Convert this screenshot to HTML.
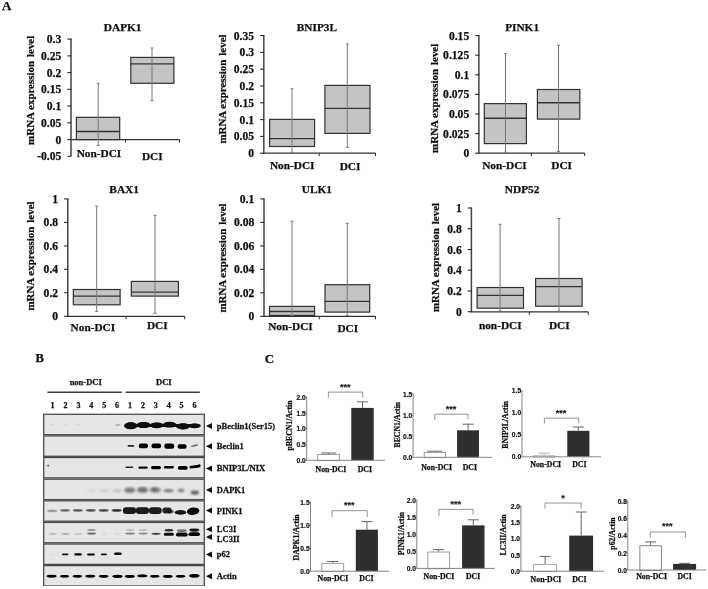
<!DOCTYPE html>
<html><head><meta charset="utf-8"><title>Figure</title>
<style>
html,body{margin:0;padding:0;background:#fff;}
body{width:708px;height:589px;overflow:hidden;font-family:"Liberation Serif",serif;}
svg{display:block}
.ff-s{font-family:"Liberation Serif",serif;}
.ff-a{font-family:"Liberation Sans",sans-serif;}
</style></head><body>
<svg width="708" height="589" viewBox="0 0 708 589">
<defs>
<filter id="b1" x="-5%" y="-5%" width="110%" height="110%"><feGaussianBlur stdDeviation="0.35"/></filter>
<filter id="b2" x="-5%" y="-5%" width="110%" height="110%"><feGaussianBlur stdDeviation="0.55"/></filter>
<filter id="b3" x="-5%" y="-5%" width="110%" height="110%"><feGaussianBlur stdDeviation="0.8"/></filter>
<filter id="soft" x="0" y="0" width="100%" height="100%"><feGaussianBlur stdDeviation="0.4"/></filter>
</defs>
<rect x="0" y="0" width="708" height="589" fill="#fff"/>
<g filter="url(#soft)">
<text x="2.0" y="10.4" font-size="13" text-anchor="start" class="ff-s" font-weight="bold" fill="#111" stroke="#111" stroke-width="0.25" >A</text>
<text x="35.6" y="361.6" font-size="12.6" text-anchor="start" class="ff-s" font-weight="bold" fill="#111" stroke="#111" stroke-width="0.25" >B</text>
<text x="264.8" y="362.6" font-size="13" text-anchor="start" class="ff-s" font-weight="bold" fill="#111" stroke="#111" stroke-width="0.25" >C</text>
<text x="122.7" y="30.9" font-size="11.3" text-anchor="middle" class="ff-s" font-weight="bold" fill="#111" stroke="#111" stroke-width="0.25" >DAPK1</text>
<line x1="71.0" y1="38.6" x2="71.0" y2="156.3" stroke="#444" stroke-width="1.5"/>
<line x1="67.3" y1="39.1" x2="71.3" y2="39.1" stroke="#2a2a2a" stroke-width="1.1"/>
<text x="61.3" y="43.1" font-size="11.6" text-anchor="end" class="ff-s" font-weight="bold" fill="#111" stroke="#111" stroke-width="0.25" >0.3</text>
<line x1="67.3" y1="55.9" x2="71.3" y2="55.9" stroke="#2a2a2a" stroke-width="1.1"/>
<text x="61.3" y="59.9" font-size="11.6" text-anchor="end" class="ff-s" font-weight="bold" fill="#111" stroke="#111" stroke-width="0.25" >0.25</text>
<line x1="67.3" y1="72.6" x2="71.3" y2="72.6" stroke="#2a2a2a" stroke-width="1.1"/>
<text x="61.3" y="76.6" font-size="11.6" text-anchor="end" class="ff-s" font-weight="bold" fill="#111" stroke="#111" stroke-width="0.25" >0.2</text>
<line x1="67.3" y1="89.3" x2="71.3" y2="89.3" stroke="#2a2a2a" stroke-width="1.1"/>
<text x="61.3" y="93.3" font-size="11.6" text-anchor="end" class="ff-s" font-weight="bold" fill="#111" stroke="#111" stroke-width="0.25" >0.15</text>
<line x1="67.3" y1="106.1" x2="71.3" y2="106.1" stroke="#2a2a2a" stroke-width="1.1"/>
<text x="61.3" y="110.1" font-size="11.6" text-anchor="end" class="ff-s" font-weight="bold" fill="#111" stroke="#111" stroke-width="0.25" >0.1</text>
<line x1="67.3" y1="122.8" x2="71.3" y2="122.8" stroke="#2a2a2a" stroke-width="1.1"/>
<text x="61.3" y="126.8" font-size="11.6" text-anchor="end" class="ff-s" font-weight="bold" fill="#111" stroke="#111" stroke-width="0.25" >0.05</text>
<line x1="67.3" y1="139.6" x2="71.3" y2="139.6" stroke="#2a2a2a" stroke-width="1.1"/>
<text x="61.3" y="143.6" font-size="11.6" text-anchor="end" class="ff-s" font-weight="bold" fill="#111" stroke="#111" stroke-width="0.25" >0</text>
<line x1="67.3" y1="156.3" x2="71.3" y2="156.3" stroke="#2a2a2a" stroke-width="1.1"/>
<text x="61.3" y="160.3" font-size="11.6" text-anchor="end" class="ff-s" font-weight="bold" fill="#111" stroke="#111" stroke-width="0.25" >-0.05</text>
<line x1="70.3" y1="139.6" x2="179.5" y2="139.6" stroke="#303030" stroke-width="1.25"/>
<line x1="125.5" y1="139.6" x2="125.5" y2="142.6" stroke="#2a2a2a" stroke-width="1"/>
<line x1="179.5" y1="139.6" x2="179.5" y2="142.6" stroke="#2a2a2a" stroke-width="1"/>
<rect x="76.4" y="117.3" width="43.3" height="22.3" fill="#c4c4c4" stroke="#333" stroke-width="1.2" />
<line x1="76.4" y1="131.5" x2="119.7" y2="131.5" stroke="#333" stroke-width="1.35"/>
<line x1="98.2" y1="83.3" x2="98.2" y2="145.5" stroke="#787878" stroke-width="1"/>
<line x1="96.7" y1="83.3" x2="99.7" y2="83.3" stroke="#787878" stroke-width="1"/>
<line x1="96.7" y1="145.5" x2="99.7" y2="145.5" stroke="#787878" stroke-width="1"/>
<rect x="130.8" y="57.4" width="43.1" height="25.9" fill="#c4c4c4" stroke="#333" stroke-width="1.2" />
<line x1="130.8" y1="63.8" x2="173.9" y2="63.8" stroke="#333" stroke-width="1.35"/>
<line x1="152.0" y1="48.0" x2="152.0" y2="100.6" stroke="#787878" stroke-width="1"/>
<line x1="150.5" y1="48.0" x2="153.5" y2="48.0" stroke="#787878" stroke-width="1"/>
<line x1="150.5" y1="100.6" x2="153.5" y2="100.6" stroke="#787878" stroke-width="1"/>
<text x="99.0" y="157.3" font-size="11.3" text-anchor="middle" class="ff-s" font-weight="bold" fill="#111" stroke="#111" stroke-width="0.25" >Non-DCI</text>
<text x="152.3" y="159.5" font-size="11.3" text-anchor="middle" class="ff-s" font-weight="bold" fill="#111" stroke="#111" stroke-width="0.25" >DCI</text>
<text transform="translate(33.5,90.3) rotate(-90)" font-size="10.95" text-anchor="middle" class="ff-s" font-weight="bold" fill="#111" stroke="#111" stroke-width="0.25" >mRNA expression <tspan dx="1.2">level</tspan></text>
<text x="316.9" y="30.9" font-size="11.3" text-anchor="middle" class="ff-s" font-weight="bold" fill="#111" stroke="#111" stroke-width="0.25" >BNIP3L</text>
<line x1="263.8" y1="35.1" x2="263.8" y2="153.2" stroke="#444" stroke-width="1.5"/>
<line x1="260.1" y1="35.6" x2="264.1" y2="35.6" stroke="#2a2a2a" stroke-width="1.1"/>
<text x="254.1" y="39.6" font-size="11.6" text-anchor="end" class="ff-s" font-weight="bold" fill="#111" stroke="#111" stroke-width="0.25" >0.35</text>
<line x1="260.1" y1="52.4" x2="264.1" y2="52.4" stroke="#2a2a2a" stroke-width="1.1"/>
<text x="254.1" y="56.4" font-size="11.6" text-anchor="end" class="ff-s" font-weight="bold" fill="#111" stroke="#111" stroke-width="0.25" >0.3</text>
<line x1="260.1" y1="69.2" x2="264.1" y2="69.2" stroke="#2a2a2a" stroke-width="1.1"/>
<text x="254.1" y="73.2" font-size="11.6" text-anchor="end" class="ff-s" font-weight="bold" fill="#111" stroke="#111" stroke-width="0.25" >0.25</text>
<line x1="260.1" y1="86.0" x2="264.1" y2="86.0" stroke="#2a2a2a" stroke-width="1.1"/>
<text x="254.1" y="90.0" font-size="11.6" text-anchor="end" class="ff-s" font-weight="bold" fill="#111" stroke="#111" stroke-width="0.25" >0.2</text>
<line x1="260.1" y1="102.8" x2="264.1" y2="102.8" stroke="#2a2a2a" stroke-width="1.1"/>
<text x="254.1" y="106.8" font-size="11.6" text-anchor="end" class="ff-s" font-weight="bold" fill="#111" stroke="#111" stroke-width="0.25" >0.15</text>
<line x1="260.1" y1="119.6" x2="264.1" y2="119.6" stroke="#2a2a2a" stroke-width="1.1"/>
<text x="254.1" y="123.6" font-size="11.6" text-anchor="end" class="ff-s" font-weight="bold" fill="#111" stroke="#111" stroke-width="0.25" >0.1</text>
<line x1="260.1" y1="136.4" x2="264.1" y2="136.4" stroke="#2a2a2a" stroke-width="1.1"/>
<text x="254.1" y="140.4" font-size="11.6" text-anchor="end" class="ff-s" font-weight="bold" fill="#111" stroke="#111" stroke-width="0.25" >0.05</text>
<line x1="260.1" y1="153.2" x2="264.1" y2="153.2" stroke="#2a2a2a" stroke-width="1.1"/>
<text x="254.1" y="157.2" font-size="11.6" text-anchor="end" class="ff-s" font-weight="bold" fill="#111" stroke="#111" stroke-width="0.25" >0</text>
<line x1="263.1" y1="153.0" x2="375.5" y2="153.0" stroke="#303030" stroke-width="1.25"/>
<line x1="319.2" y1="153.0" x2="319.2" y2="156.0" stroke="#2a2a2a" stroke-width="1"/>
<line x1="375.5" y1="153.0" x2="375.5" y2="156.0" stroke="#2a2a2a" stroke-width="1"/>
<rect x="269.6" y="119.4" width="45.0" height="27.1" fill="#c4c4c4" stroke="#333" stroke-width="1.2" />
<line x1="269.6" y1="138.6" x2="314.6" y2="138.6" stroke="#333" stroke-width="1.35"/>
<line x1="292.0" y1="88.8" x2="292.0" y2="152.3" stroke="#787878" stroke-width="1"/>
<line x1="290.5" y1="88.8" x2="293.5" y2="88.8" stroke="#787878" stroke-width="1"/>
<line x1="290.5" y1="152.3" x2="293.5" y2="152.3" stroke="#787878" stroke-width="1"/>
<rect x="324.9" y="85.4" width="45.1" height="48.0" fill="#c4c4c4" stroke="#333" stroke-width="1.2" />
<line x1="324.9" y1="108.3" x2="370.0" y2="108.3" stroke="#333" stroke-width="1.35"/>
<line x1="347.3" y1="44.0" x2="347.3" y2="147.3" stroke="#787878" stroke-width="1"/>
<line x1="345.8" y1="44.0" x2="348.8" y2="44.0" stroke="#787878" stroke-width="1"/>
<line x1="345.8" y1="147.3" x2="348.8" y2="147.3" stroke="#787878" stroke-width="1"/>
<text x="292.2" y="168.7" font-size="11.3" text-anchor="middle" class="ff-s" font-weight="bold" fill="#111" stroke="#111" stroke-width="0.25" >Non-DCI</text>
<text x="350.0" y="169.7" font-size="11.3" text-anchor="middle" class="ff-s" font-weight="bold" fill="#111" stroke="#111" stroke-width="0.25" >DCI</text>
<text transform="translate(226.0,89.0) rotate(-90)" font-size="10.95" text-anchor="middle" class="ff-s" font-weight="bold" fill="#111" stroke="#111" stroke-width="0.25" >mRNA expression <tspan dx="1.2">level</tspan></text>
<text x="522.1" y="30.9" font-size="11.3" text-anchor="middle" class="ff-s" font-weight="bold" fill="#111" stroke="#111" stroke-width="0.25" >PINK1</text>
<line x1="478.9" y1="35.1" x2="478.9" y2="153.2" stroke="#444" stroke-width="1.5"/>
<line x1="475.2" y1="35.6" x2="479.2" y2="35.6" stroke="#2a2a2a" stroke-width="1.1"/>
<text x="469.2" y="39.6" font-size="11.6" text-anchor="end" class="ff-s" font-weight="bold" fill="#111" stroke="#111" stroke-width="0.25" >0.15</text>
<line x1="475.2" y1="55.2" x2="479.2" y2="55.2" stroke="#2a2a2a" stroke-width="1.1"/>
<text x="469.2" y="59.2" font-size="11.6" text-anchor="end" class="ff-s" font-weight="bold" fill="#111" stroke="#111" stroke-width="0.25" >0.125</text>
<line x1="475.2" y1="74.8" x2="479.2" y2="74.8" stroke="#2a2a2a" stroke-width="1.1"/>
<text x="469.2" y="78.8" font-size="11.6" text-anchor="end" class="ff-s" font-weight="bold" fill="#111" stroke="#111" stroke-width="0.25" >0.1</text>
<line x1="475.2" y1="94.4" x2="479.2" y2="94.4" stroke="#2a2a2a" stroke-width="1.1"/>
<text x="469.2" y="98.4" font-size="11.6" text-anchor="end" class="ff-s" font-weight="bold" fill="#111" stroke="#111" stroke-width="0.25" >0.075</text>
<line x1="475.2" y1="114.0" x2="479.2" y2="114.0" stroke="#2a2a2a" stroke-width="1.1"/>
<text x="469.2" y="118.0" font-size="11.6" text-anchor="end" class="ff-s" font-weight="bold" fill="#111" stroke="#111" stroke-width="0.25" >0.05</text>
<line x1="475.2" y1="133.6" x2="479.2" y2="133.6" stroke="#2a2a2a" stroke-width="1.1"/>
<text x="469.2" y="137.6" font-size="11.6" text-anchor="end" class="ff-s" font-weight="bold" fill="#111" stroke="#111" stroke-width="0.25" >0.025</text>
<line x1="475.2" y1="153.2" x2="479.2" y2="153.2" stroke="#2a2a2a" stroke-width="1.1"/>
<text x="469.2" y="157.2" font-size="11.6" text-anchor="end" class="ff-s" font-weight="bold" fill="#111" stroke="#111" stroke-width="0.25" >0</text>
<line x1="478.2" y1="153.0" x2="584.7" y2="153.0" stroke="#303030" stroke-width="1.25"/>
<line x1="531.3" y1="153.0" x2="531.3" y2="156.0" stroke="#2a2a2a" stroke-width="1"/>
<line x1="584.7" y1="153.0" x2="584.7" y2="156.0" stroke="#2a2a2a" stroke-width="1"/>
<rect x="484.3" y="103.6" width="42.1" height="40.0" fill="#c4c4c4" stroke="#333" stroke-width="1.2" />
<line x1="484.3" y1="118.2" x2="526.4" y2="118.2" stroke="#333" stroke-width="1.35"/>
<line x1="505.5" y1="53.7" x2="505.5" y2="152.3" stroke="#787878" stroke-width="1"/>
<line x1="504.0" y1="53.7" x2="507.0" y2="53.7" stroke="#787878" stroke-width="1"/>
<line x1="504.0" y1="152.3" x2="507.0" y2="152.3" stroke="#787878" stroke-width="1"/>
<rect x="537.4" y="89.5" width="42.4" height="29.6" fill="#c4c4c4" stroke="#333" stroke-width="1.2" />
<line x1="537.4" y1="102.7" x2="579.8" y2="102.7" stroke="#333" stroke-width="1.35"/>
<line x1="558.5" y1="45.3" x2="558.5" y2="151.4" stroke="#787878" stroke-width="1"/>
<line x1="557.0" y1="45.3" x2="560.0" y2="45.3" stroke="#787878" stroke-width="1"/>
<line x1="557.0" y1="151.4" x2="560.0" y2="151.4" stroke="#787878" stroke-width="1"/>
<text x="504.5" y="168.5" font-size="11.3" text-anchor="middle" class="ff-s" font-weight="bold" fill="#111" stroke="#111" stroke-width="0.25" >Non-DCI</text>
<text x="561.6" y="168.5" font-size="11.3" text-anchor="middle" class="ff-s" font-weight="bold" fill="#111" stroke="#111" stroke-width="0.25" >DCI</text>
<text transform="translate(437.8,98.3) rotate(-90)" font-size="10.95" text-anchor="middle" class="ff-s" font-weight="bold" fill="#111" stroke="#111" stroke-width="0.25" >mRNA expression <tspan dx="1.2">level</tspan></text>
<text x="124.1" y="192.8" font-size="11.3" text-anchor="middle" class="ff-s" font-weight="bold" fill="#111" stroke="#111" stroke-width="0.25" >BAX1</text>
<line x1="67.8" y1="198.4" x2="67.8" y2="316.3" stroke="#444" stroke-width="1.5"/>
<line x1="64.1" y1="198.9" x2="68.1" y2="198.9" stroke="#2a2a2a" stroke-width="1.1"/>
<text x="58.1" y="202.9" font-size="11.6" text-anchor="end" class="ff-s" font-weight="bold" fill="#111" stroke="#111" stroke-width="0.25" >1</text>
<line x1="64.1" y1="222.4" x2="68.1" y2="222.4" stroke="#2a2a2a" stroke-width="1.1"/>
<text x="58.1" y="226.4" font-size="11.6" text-anchor="end" class="ff-s" font-weight="bold" fill="#111" stroke="#111" stroke-width="0.25" >0.8</text>
<line x1="64.1" y1="245.9" x2="68.1" y2="245.9" stroke="#2a2a2a" stroke-width="1.1"/>
<text x="58.1" y="249.9" font-size="11.6" text-anchor="end" class="ff-s" font-weight="bold" fill="#111" stroke="#111" stroke-width="0.25" >0.6</text>
<line x1="64.1" y1="269.3" x2="68.1" y2="269.3" stroke="#2a2a2a" stroke-width="1.1"/>
<text x="58.1" y="273.3" font-size="11.6" text-anchor="end" class="ff-s" font-weight="bold" fill="#111" stroke="#111" stroke-width="0.25" >0.4</text>
<line x1="64.1" y1="292.8" x2="68.1" y2="292.8" stroke="#2a2a2a" stroke-width="1.1"/>
<text x="58.1" y="296.8" font-size="11.6" text-anchor="end" class="ff-s" font-weight="bold" fill="#111" stroke="#111" stroke-width="0.25" >0.2</text>
<line x1="64.1" y1="316.3" x2="68.1" y2="316.3" stroke="#2a2a2a" stroke-width="1.1"/>
<text x="58.1" y="320.3" font-size="11.6" text-anchor="end" class="ff-s" font-weight="bold" fill="#111" stroke="#111" stroke-width="0.25" >0</text>
<line x1="67.1" y1="316.3" x2="184.7" y2="316.3" stroke="#303030" stroke-width="1.25"/>
<line x1="126.1" y1="316.3" x2="126.1" y2="319.3" stroke="#2a2a2a" stroke-width="1"/>
<line x1="184.7" y1="316.3" x2="184.7" y2="319.3" stroke="#2a2a2a" stroke-width="1"/>
<rect x="73.3" y="289.5" width="46.8" height="15.3" fill="#c4c4c4" stroke="#333" stroke-width="1.2" />
<line x1="73.3" y1="296.1" x2="120.1" y2="296.1" stroke="#333" stroke-width="1.35"/>
<line x1="96.7" y1="206.1" x2="96.7" y2="311.4" stroke="#787878" stroke-width="1"/>
<line x1="95.2" y1="206.1" x2="98.2" y2="206.1" stroke="#787878" stroke-width="1"/>
<line x1="95.2" y1="311.4" x2="98.2" y2="311.4" stroke="#787878" stroke-width="1"/>
<rect x="131.3" y="281.4" width="47.1" height="14.7" fill="#c4c4c4" stroke="#333" stroke-width="1.2" />
<line x1="131.3" y1="292.1" x2="178.4" y2="292.1" stroke="#333" stroke-width="1.35"/>
<line x1="155.0" y1="215.3" x2="155.0" y2="313.4" stroke="#787878" stroke-width="1"/>
<line x1="153.5" y1="215.3" x2="156.5" y2="215.3" stroke="#787878" stroke-width="1"/>
<line x1="153.5" y1="313.4" x2="156.5" y2="313.4" stroke="#787878" stroke-width="1"/>
<text x="92.9" y="330.7" font-size="11.3" text-anchor="middle" class="ff-s" font-weight="bold" fill="#111" stroke="#111" stroke-width="0.25" >Non-DCI</text>
<text x="157.3" y="329.3" font-size="11.3" text-anchor="middle" class="ff-s" font-weight="bold" fill="#111" stroke="#111" stroke-width="0.25" >DCI</text>
<text transform="translate(33.5,256.0) rotate(-90)" font-size="10.95" text-anchor="middle" class="ff-s" font-weight="bold" fill="#111" stroke="#111" stroke-width="0.25" >mRNA expression <tspan dx="1.2">level</tspan></text>
<text x="316.9" y="192.8" font-size="11.3" text-anchor="middle" class="ff-s" font-weight="bold" fill="#111" stroke="#111" stroke-width="0.25" >ULK1</text>
<line x1="264.0" y1="198.4" x2="264.0" y2="316.3" stroke="#444" stroke-width="1.5"/>
<line x1="260.3" y1="198.9" x2="264.3" y2="198.9" stroke="#2a2a2a" stroke-width="1.1"/>
<text x="254.3" y="202.9" font-size="11.6" text-anchor="end" class="ff-s" font-weight="bold" fill="#111" stroke="#111" stroke-width="0.25" >0.1</text>
<line x1="260.3" y1="222.4" x2="264.3" y2="222.4" stroke="#2a2a2a" stroke-width="1.1"/>
<text x="254.3" y="226.4" font-size="11.6" text-anchor="end" class="ff-s" font-weight="bold" fill="#111" stroke="#111" stroke-width="0.25" >0.08</text>
<line x1="260.3" y1="245.9" x2="264.3" y2="245.9" stroke="#2a2a2a" stroke-width="1.1"/>
<text x="254.3" y="249.9" font-size="11.6" text-anchor="end" class="ff-s" font-weight="bold" fill="#111" stroke="#111" stroke-width="0.25" >0.06</text>
<line x1="260.3" y1="269.3" x2="264.3" y2="269.3" stroke="#2a2a2a" stroke-width="1.1"/>
<text x="254.3" y="273.3" font-size="11.6" text-anchor="end" class="ff-s" font-weight="bold" fill="#111" stroke="#111" stroke-width="0.25" >0.04</text>
<line x1="260.3" y1="292.8" x2="264.3" y2="292.8" stroke="#2a2a2a" stroke-width="1.1"/>
<text x="254.3" y="296.8" font-size="11.6" text-anchor="end" class="ff-s" font-weight="bold" fill="#111" stroke="#111" stroke-width="0.25" >0.02</text>
<line x1="260.3" y1="316.3" x2="264.3" y2="316.3" stroke="#2a2a2a" stroke-width="1.1"/>
<text x="254.3" y="320.3" font-size="11.6" text-anchor="end" class="ff-s" font-weight="bold" fill="#111" stroke="#111" stroke-width="0.25" >0</text>
<line x1="263.3" y1="316.3" x2="375.5" y2="316.3" stroke="#303030" stroke-width="1.25"/>
<line x1="319.2" y1="316.3" x2="319.2" y2="319.3" stroke="#2a2a2a" stroke-width="1"/>
<line x1="375.5" y1="316.3" x2="375.5" y2="319.3" stroke="#2a2a2a" stroke-width="1"/>
<rect x="269.5" y="306.4" width="45.1" height="9.0" fill="#c4c4c4" stroke="#333" stroke-width="1.2" />
<line x1="269.5" y1="311.5" x2="314.6" y2="311.5" stroke="#333" stroke-width="1.35"/>
<line x1="292.0" y1="221.2" x2="292.0" y2="315.4" stroke="#787878" stroke-width="1"/>
<line x1="290.5" y1="221.2" x2="293.5" y2="221.2" stroke="#787878" stroke-width="1"/>
<line x1="290.5" y1="315.4" x2="293.5" y2="315.4" stroke="#787878" stroke-width="1"/>
<rect x="325.0" y="284.7" width="44.7" height="27.4" fill="#c4c4c4" stroke="#333" stroke-width="1.2" />
<line x1="325.0" y1="301.4" x2="369.7" y2="301.4" stroke="#333" stroke-width="1.35"/>
<line x1="347.3" y1="223.3" x2="347.3" y2="315.6" stroke="#787878" stroke-width="1"/>
<line x1="345.8" y1="223.3" x2="348.8" y2="223.3" stroke="#787878" stroke-width="1"/>
<line x1="345.8" y1="315.6" x2="348.8" y2="315.6" stroke="#787878" stroke-width="1"/>
<text x="290.5" y="330.4" font-size="11.3" text-anchor="middle" class="ff-s" font-weight="bold" fill="#111" stroke="#111" stroke-width="0.25" >Non-DCI</text>
<text x="347.8" y="331.8" font-size="11.3" text-anchor="middle" class="ff-s" font-weight="bold" fill="#111" stroke="#111" stroke-width="0.25" >DCI</text>
<text transform="translate(226.0,258.0) rotate(-90)" font-size="10.95" text-anchor="middle" class="ff-s" font-weight="bold" fill="#111" stroke="#111" stroke-width="0.25" >mRNA expression <tspan dx="1.2">level</tspan></text>
<text x="522.1" y="192.8" font-size="11.3" text-anchor="middle" class="ff-s" font-weight="bold" fill="#111" stroke="#111" stroke-width="0.25" >NDP52</text>
<line x1="471.4" y1="207.5" x2="471.4" y2="311.7" stroke="#444" stroke-width="1.5"/>
<line x1="467.7" y1="208.0" x2="471.7" y2="208.0" stroke="#2a2a2a" stroke-width="1.1"/>
<text x="461.7" y="212.0" font-size="11.6" text-anchor="end" class="ff-s" font-weight="bold" fill="#111" stroke="#111" stroke-width="0.25" >1</text>
<line x1="467.7" y1="228.7" x2="471.7" y2="228.7" stroke="#2a2a2a" stroke-width="1.1"/>
<text x="461.7" y="232.7" font-size="11.6" text-anchor="end" class="ff-s" font-weight="bold" fill="#111" stroke="#111" stroke-width="0.25" >0.8</text>
<line x1="467.7" y1="249.5" x2="471.7" y2="249.5" stroke="#2a2a2a" stroke-width="1.1"/>
<text x="461.7" y="253.5" font-size="11.6" text-anchor="end" class="ff-s" font-weight="bold" fill="#111" stroke="#111" stroke-width="0.25" >0.6</text>
<line x1="467.7" y1="270.2" x2="471.7" y2="270.2" stroke="#2a2a2a" stroke-width="1.1"/>
<text x="461.7" y="274.2" font-size="11.6" text-anchor="end" class="ff-s" font-weight="bold" fill="#111" stroke="#111" stroke-width="0.25" >0.4</text>
<line x1="467.7" y1="291.0" x2="471.7" y2="291.0" stroke="#2a2a2a" stroke-width="1.1"/>
<text x="461.7" y="295.0" font-size="11.6" text-anchor="end" class="ff-s" font-weight="bold" fill="#111" stroke="#111" stroke-width="0.25" >0.2</text>
<line x1="467.7" y1="311.7" x2="471.7" y2="311.7" stroke="#2a2a2a" stroke-width="1.1"/>
<text x="461.7" y="315.7" font-size="11.6" text-anchor="end" class="ff-s" font-weight="bold" fill="#111" stroke="#111" stroke-width="0.25" >0</text>
<line x1="470.7" y1="311.8" x2="588.2" y2="311.8" stroke="#303030" stroke-width="1.25"/>
<line x1="529.3" y1="311.8" x2="529.3" y2="314.8" stroke="#2a2a2a" stroke-width="1"/>
<line x1="588.2" y1="311.8" x2="588.2" y2="314.8" stroke="#2a2a2a" stroke-width="1"/>
<rect x="477.1" y="287.5" width="46.4" height="20.7" fill="#c4c4c4" stroke="#333" stroke-width="1.2" />
<line x1="477.1" y1="295.3" x2="523.5" y2="295.3" stroke="#333" stroke-width="1.35"/>
<line x1="500.1" y1="224.3" x2="500.1" y2="311.0" stroke="#787878" stroke-width="1"/>
<line x1="498.6" y1="224.3" x2="501.6" y2="224.3" stroke="#787878" stroke-width="1"/>
<line x1="498.6" y1="311.0" x2="501.6" y2="311.0" stroke="#787878" stroke-width="1"/>
<rect x="535.6" y="278.5" width="46.5" height="27.7" fill="#c4c4c4" stroke="#333" stroke-width="1.2" />
<line x1="535.6" y1="286.6" x2="582.1" y2="286.6" stroke="#333" stroke-width="1.35"/>
<line x1="559.0" y1="218.5" x2="559.0" y2="311.0" stroke="#787878" stroke-width="1"/>
<line x1="557.5" y1="218.5" x2="560.5" y2="218.5" stroke="#787878" stroke-width="1"/>
<line x1="557.5" y1="311.0" x2="560.5" y2="311.0" stroke="#787878" stroke-width="1"/>
<text x="500.3" y="328.5" font-size="11.3" text-anchor="middle" class="ff-s" font-weight="bold" fill="#111" stroke="#111" stroke-width="0.25" >non-DCI</text>
<text x="559.3" y="328.5" font-size="11.3" text-anchor="middle" class="ff-s" font-weight="bold" fill="#111" stroke="#111" stroke-width="0.25" >DCI</text>
<text transform="translate(439.0,257.5) rotate(-90)" font-size="10.95" text-anchor="middle" class="ff-s" font-weight="bold" fill="#111" stroke="#111" stroke-width="0.25" >mRNA expression <tspan dx="1.2">level</tspan></text>
<text x="85.7" y="385.1" font-size="8.5" text-anchor="middle" class="ff-s" font-weight="bold" fill="#111" stroke="#111" stroke-width="0.25" >non-DCI</text>
<text x="163.8" y="385.1" font-size="8.5" text-anchor="middle" class="ff-s" font-weight="bold" fill="#111" stroke="#111" stroke-width="0.25" >DCI</text>
<line x1="47.5" y1="392.2" x2="121.8" y2="392.2" stroke="#3a3a3a" stroke-width="1.4"/>
<line x1="125.7" y1="392.2" x2="199.8" y2="392.2" stroke="#3a3a3a" stroke-width="1.4"/>
<text x="52.6" y="408.2" font-size="8" text-anchor="middle" class="ff-s" font-weight="bold" fill="#111" stroke="#111" stroke-width="0.25" >1</text>
<text x="65.5" y="408.2" font-size="8" text-anchor="middle" class="ff-s" font-weight="bold" fill="#111" stroke="#111" stroke-width="0.25" >2</text>
<text x="78.4" y="408.2" font-size="8" text-anchor="middle" class="ff-s" font-weight="bold" fill="#111" stroke="#111" stroke-width="0.25" >3</text>
<text x="91.3" y="408.2" font-size="8" text-anchor="middle" class="ff-s" font-weight="bold" fill="#111" stroke="#111" stroke-width="0.25" >4</text>
<text x="104.2" y="408.2" font-size="8" text-anchor="middle" class="ff-s" font-weight="bold" fill="#111" stroke="#111" stroke-width="0.25" >5</text>
<text x="117.1" y="408.2" font-size="8" text-anchor="middle" class="ff-s" font-weight="bold" fill="#111" stroke="#111" stroke-width="0.25" >6</text>
<text x="130.0" y="408.2" font-size="8" text-anchor="middle" class="ff-s" font-weight="bold" fill="#111" stroke="#111" stroke-width="0.25" >1</text>
<text x="142.9" y="408.2" font-size="8" text-anchor="middle" class="ff-s" font-weight="bold" fill="#111" stroke="#111" stroke-width="0.25" >2</text>
<text x="155.8" y="408.2" font-size="8" text-anchor="middle" class="ff-s" font-weight="bold" fill="#111" stroke="#111" stroke-width="0.25" >3</text>
<text x="168.7" y="408.2" font-size="8" text-anchor="middle" class="ff-s" font-weight="bold" fill="#111" stroke="#111" stroke-width="0.25" >4</text>
<text x="181.6" y="408.2" font-size="8" text-anchor="middle" class="ff-s" font-weight="bold" fill="#111" stroke="#111" stroke-width="0.25" >5</text>
<text x="194.5" y="408.2" font-size="8" text-anchor="middle" class="ff-s" font-weight="bold" fill="#111" stroke="#111" stroke-width="0.25" >6</text>
<g filter="url(#b1)">
<rect x="43.7" y="414.3" width="160.6" height="20.4" fill="#e6e6e6" stroke="#4a4a4a" stroke-width="1.3" />
<rect x="43.7" y="435.9" width="160.6" height="20.4" fill="#e6e6e6" stroke="#4a4a4a" stroke-width="1.3" />
<rect x="43.7" y="457.5" width="160.6" height="20.4" fill="#e6e6e6" stroke="#4a4a4a" stroke-width="1.3" />
<rect x="43.7" y="479.2" width="160.6" height="20.4" fill="#e6e6e6" stroke="#4a4a4a" stroke-width="1.3" />
<rect x="43.7" y="500.8" width="160.6" height="20.4" fill="#e6e6e6" stroke="#4a4a4a" stroke-width="1.3" />
<rect x="43.7" y="522.4" width="160.6" height="20.4" fill="#e6e6e6" stroke="#4a4a4a" stroke-width="1.3" />
<rect x="43.7" y="544.0" width="160.6" height="20.4" fill="#e6e6e6" stroke="#4a4a4a" stroke-width="1.3" />
<rect x="43.7" y="565.6" width="160.6" height="20.4" fill="#e6e6e6" stroke="#4a4a4a" stroke-width="1.3" />
</g>
<g filter="url(#b2)">
<ellipse cx="130.8" cy="425.7" rx="6.8" ry="3.5" fill="#0a0a0a" opacity="1"/>
<rect x="126.3" y="422.6" width="9.1" height="6.1" rx="3.1" fill="#0a0a0a" opacity="1"/>
<ellipse cx="143.6" cy="425.0" rx="7.0" ry="3.1" fill="#0a0a0a" opacity="1"/>
<rect x="138.8" y="422.3" width="9.5" height="5.4" rx="2.7" fill="#0a0a0a" opacity="1"/>
<ellipse cx="156.7" cy="425.3" rx="7.0" ry="2.9" fill="#0a0a0a" opacity="1"/>
<rect x="151.9" y="422.8" width="9.5" height="5.0" rx="2.5" fill="#0a0a0a" opacity="1"/>
<ellipse cx="169.6" cy="424.7" rx="7.0" ry="2.9" fill="#0a0a0a" opacity="1"/>
<rect x="164.8" y="422.2" width="9.5" height="4.9" rx="2.5" fill="#0a0a0a" opacity="1"/>
<ellipse cx="183.0" cy="426.4" rx="6.8" ry="3.1" fill="#0a0a0a" opacity="1"/>
<rect x="178.4" y="423.6" width="9.1" height="5.5" rx="2.8" fill="#0a0a0a" opacity="1"/>
<ellipse cx="194.6" cy="425.8" rx="6.2" ry="2.4" fill="#0a0a0a" opacity="1"/>
<rect x="190.7" y="423.8" width="7.9" height="4.0" rx="2.0" fill="#0a0a0a" opacity="1"/>
<rect x="134.0" y="424.1" width="58.0" height="2.8" rx="1.4" fill="#0a0a0a" opacity="1"/>
<ellipse cx="118.0" cy="424.9" rx="2.8" ry="1.0" fill="#444" opacity="0.3"/>
<ellipse cx="51.8" cy="424.5" rx="2.5" ry="0.8" fill="#000" opacity="0.07"/>
<ellipse cx="64.7" cy="424.5" rx="2.5" ry="0.8" fill="#000" opacity="0.07"/>
<ellipse cx="77.6" cy="424.8" rx="2.5" ry="0.8" fill="#000" opacity="0.07"/>
<rect x="127.6" y="444.9" width="6.6" height="1.9" rx="0.9" fill="#000" opacity="0.85"/>
<rect x="138.8" y="443.5" width="9.2" height="4.8" rx="2.1" fill="#050505" opacity="1"/>
<rect x="151.5" y="443.6" width="9.6" height="4.6" rx="2.0" fill="#050505" opacity="1"/>
<rect x="164.3" y="443.6" width="9.9" height="5.2" rx="2.3" fill="#050505" opacity="1"/>
<rect x="177.6" y="444.2" width="9.0" height="4.5" rx="2.0" fill="#050505" opacity="1"/>
<ellipse cx="194.5" cy="445.6" rx="3.8" ry="0.9" fill="#222" opacity="0.6" transform="rotate(-14 194.5 445.6)"/>
<rect x="125.4" y="466.5" width="8.0" height="1.6" rx="0.8" fill="#000" opacity="0.85"/>
<rect x="138.4" y="466.4" width="9.4" height="2.4" rx="1.2" fill="#000" opacity="0.95"/>
<rect x="151.0" y="465.9" width="10.0" height="3.3" rx="1.6" fill="#000" opacity="1"/>
<rect x="163.9" y="465.9" width="10.0" height="2.7" rx="1.4" fill="#000" opacity="1"/>
<rect x="177.9" y="466.1" width="9.8" height="3.7" rx="1.9" fill="#000" opacity="1"/>
<g transform="rotate(-7 195 466.6)">
<rect x="189.5" y="465.3" width="11.0" height="2.7" rx="1.4" fill="#000" opacity="1"/>
</g>
<ellipse cx="199.3" cy="465.3" rx="1.3" ry="1.0" fill="#000" opacity="0.9"/>
<ellipse cx="48.1" cy="465.6" rx="0.9" ry="0.9" fill="#000" opacity="0.75"/>
<rect x="122.9" y="507.2" width="13.2" height="6.8" rx="3.2" fill="#0a0a0a" opacity="0.92"/>
<rect x="135.8" y="507.2" width="13.2" height="6.8" rx="3.2" fill="#0a0a0a" opacity="0.92"/>
<rect x="148.9" y="507.2" width="12.8" height="6.8" rx="3.2" fill="#0a0a0a" opacity="0.92"/>
<rect x="162.3" y="507.5" width="9.5" height="6.0" rx="3.0" fill="#111" opacity="0.88"/>
<ellipse cx="170.4" cy="511.6" rx="3.5" ry="1.8" fill="#000" opacity="0.6"/>
<ellipse cx="180.5" cy="512.4" rx="5.8" ry="2.4" fill="#000" opacity="0.9"/>
<g transform="rotate(-8 193 511)">
<ellipse cx="193.1" cy="511.2" rx="6.3" ry="3.7" fill="#000" opacity="1"/>
</g>
<ellipse cx="168.9" cy="530.2" rx="4.5" ry="1.2" fill="#000" opacity="0.8"/>
<rect x="163.9" y="532.7" width="10.0" height="3.0" rx="1.5" fill="#000" opacity="0.95"/>
<ellipse cx="181.8" cy="530.5" rx="5.0" ry="1.2" fill="#000" opacity="0.5"/>
<rect x="175.8" y="532.9" width="12.0" height="3.5" rx="1.8" fill="#000" opacity="0.95"/>
<ellipse cx="181.8" cy="532.8" rx="5.0" ry="1.5" fill="#000" opacity="0.45"/>
<ellipse cx="194.3" cy="529.9" rx="5.0" ry="1.4" fill="#000" opacity="0.92"/>
<rect x="188.5" y="532.5" width="11.5" height="3.6" rx="1.8" fill="#000" opacity="1"/>
<ellipse cx="194.3" cy="532.4" rx="4.5" ry="1.5" fill="#000" opacity="0.55"/>
<rect x="62.0" y="553.5" width="6.4" height="1.7" rx="0.8" fill="#000" opacity="0.9"/>
<rect x="74.3" y="553.3" width="7.6" height="2.2" rx="1.1" fill="#000" opacity="1"/>
<rect x="87.1" y="553.4" width="7.8" height="2.0" rx="1.0" fill="#000" opacity="1"/>
<rect x="100.9" y="553.5" width="6.0" height="1.7" rx="0.8" fill="#000" opacity="0.9"/>
<rect x="114.1" y="552.5" width="7.6" height="2.4" rx="1.2" fill="#000" opacity="1"/>
<ellipse cx="51.6" cy="576.2" rx="5.0" ry="1.4" fill="#050505" opacity="1"/>
<rect x="48.1" y="575.1" width="7.0" height="2.2" rx="1.1" fill="#050505" opacity="1"/>
<ellipse cx="64.5" cy="576.2" rx="4.7" ry="1.3" fill="#050505" opacity="1"/>
<rect x="61.3" y="575.2" width="6.4" height="2.0" rx="1.0" fill="#050505" opacity="1"/>
<ellipse cx="77.4" cy="576.2" rx="4.9" ry="1.3" fill="#050505" opacity="1"/>
<rect x="74.0" y="575.2" width="6.8" height="2.0" rx="1.0" fill="#050505" opacity="1"/>
<ellipse cx="90.3" cy="576.2" rx="5.0" ry="1.4" fill="#050505" opacity="1"/>
<rect x="86.8" y="575.1" width="7.0" height="2.2" rx="1.1" fill="#050505" opacity="1"/>
<ellipse cx="103.6" cy="576.3" rx="5.0" ry="1.4" fill="#050505" opacity="1"/>
<rect x="100.1" y="575.2" width="7.0" height="2.2" rx="1.1" fill="#050505" opacity="1"/>
<ellipse cx="117.5" cy="576.3" rx="5.2" ry="1.5" fill="#050505" opacity="1"/>
<rect x="113.8" y="575.1" width="7.4" height="2.4" rx="1.2" fill="#050505" opacity="1"/>
<ellipse cx="129.8" cy="576.4" rx="5.1" ry="1.4" fill="#050505" opacity="1"/>
<rect x="126.2" y="575.3" width="7.2" height="2.3" rx="1.1" fill="#050505" opacity="1"/>
<ellipse cx="142.3" cy="575.9" rx="5.0" ry="1.4" fill="#050505" opacity="1"/>
<rect x="138.8" y="574.8" width="7.0" height="2.2" rx="1.1" fill="#050505" opacity="1"/>
<ellipse cx="154.8" cy="576.2" rx="4.9" ry="1.3" fill="#050505" opacity="1"/>
<rect x="151.4" y="575.2" width="6.8" height="2.0" rx="1.0" fill="#050505" opacity="1"/>
<ellipse cx="167.7" cy="576.4" rx="5.0" ry="1.4" fill="#050505" opacity="1"/>
<rect x="164.2" y="575.3" width="7.0" height="2.2" rx="1.1" fill="#050505" opacity="1"/>
<ellipse cx="180.6" cy="576.3" rx="4.9" ry="1.3" fill="#050505" opacity="1"/>
<rect x="177.2" y="575.3" width="6.8" height="2.0" rx="1.0" fill="#050505" opacity="1"/>
<ellipse cx="194.3" cy="575.7" rx="5.3" ry="1.8" fill="#050505" opacity="1"/>
<rect x="190.5" y="574.2" width="7.6" height="3.0" rx="1.5" fill="#050505" opacity="1"/>
</g>
<g filter="url(#b3)">
<ellipse cx="91.5" cy="490.8" rx="4.8" ry="1.3" fill="#000" opacity="0.08"/>
<ellipse cx="104.4" cy="490.8" rx="4.8" ry="1.3" fill="#000" opacity="0.13"/>
<ellipse cx="117.3" cy="490.8" rx="4.8" ry="1.3" fill="#000" opacity="0.17"/>
<ellipse cx="129.8" cy="490.2" rx="5.8" ry="3.0" fill="#000" opacity="0.38"/>
<ellipse cx="129.8" cy="489.9" rx="4.0" ry="1.5" fill="#000" opacity="0.2"/>
<ellipse cx="142.5" cy="490.0" rx="5.8" ry="3.2" fill="#000" opacity="0.4"/>
<ellipse cx="142.5" cy="489.6" rx="4.0" ry="1.5" fill="#000" opacity="0.25"/>
<ellipse cx="155.4" cy="490.0" rx="5.8" ry="2.9" fill="#000" opacity="0.4"/>
<ellipse cx="154.0" cy="489.0" rx="3.0" ry="1.5" fill="#000" opacity="0.3"/>
<ellipse cx="168.5" cy="490.6" rx="5.2" ry="1.7" fill="#000" opacity="0.5"/>
<ellipse cx="181.1" cy="490.4" rx="3.2" ry="1.8" fill="#000" opacity="0.45"/>
<ellipse cx="194.9" cy="492.6" rx="4.2" ry="2.1" fill="#000" opacity="0.6"/>
</g>
<g filter="url(#b2)">
<ellipse cx="52.1" cy="510.9" rx="5.1" ry="1.4" fill="#000" opacity="0.26"/>
<ellipse cx="52.1" cy="510.9" rx="3.5" ry="0.8" fill="#000" opacity="0.13"/>
<ellipse cx="65.0" cy="510.4" rx="5.1" ry="1.4" fill="#000" opacity="0.42"/>
<ellipse cx="65.0" cy="510.4" rx="3.5" ry="0.8" fill="#000" opacity="0.21"/>
<ellipse cx="77.9" cy="510.4" rx="5.1" ry="1.4" fill="#000" opacity="0.48"/>
<ellipse cx="77.9" cy="510.4" rx="3.5" ry="0.8" fill="#000" opacity="0.24"/>
<ellipse cx="90.8" cy="510.4" rx="5.1" ry="1.4" fill="#000" opacity="0.52"/>
<ellipse cx="90.8" cy="510.4" rx="3.5" ry="0.8" fill="#000" opacity="0.26"/>
<ellipse cx="103.7" cy="510.4" rx="5.1" ry="1.4" fill="#000" opacity="0.55"/>
<ellipse cx="103.7" cy="510.4" rx="3.5" ry="0.8" fill="#000" opacity="0.275"/>
<ellipse cx="116.6" cy="510.4" rx="5.1" ry="1.4" fill="#000" opacity="0.7"/>
<ellipse cx="116.6" cy="510.4" rx="3.5" ry="0.8" fill="#000" opacity="0.35"/>
<ellipse cx="52.6" cy="533.8" rx="4.0" ry="0.9" fill="#000" opacity="0.2"/>
<ellipse cx="65.5" cy="533.8" rx="4.0" ry="0.9" fill="#000" opacity="0.27"/>
<ellipse cx="78.4" cy="533.8" rx="4.0" ry="0.9" fill="#000" opacity="0.16"/>
<ellipse cx="91.5" cy="530.0" rx="4.2" ry="1.0" fill="#000" opacity="0.36"/>
<ellipse cx="91.5" cy="533.6" rx="4.5" ry="1.1" fill="#000" opacity="0.52"/>
<ellipse cx="104.4" cy="533.9" rx="2.5" ry="0.8" fill="#000" opacity="0.07"/>
<ellipse cx="117.3" cy="533.9" rx="2.5" ry="0.8" fill="#000" opacity="0.07"/>
<ellipse cx="130.2" cy="530.0" rx="4.2" ry="0.9" fill="#000" opacity="0.2"/>
<ellipse cx="130.2" cy="533.6" rx="4.8" ry="1.1" fill="#000" opacity="0.42"/>
<ellipse cx="143.1" cy="530.0" rx="4.2" ry="0.9" fill="#000" opacity="0.2"/>
<ellipse cx="143.1" cy="533.6" rx="4.8" ry="1.1" fill="#000" opacity="0.36"/>
<ellipse cx="156.0" cy="533.8" rx="4.5" ry="1.1" fill="#000" opacity="0.68"/>
<ellipse cx="52.8" cy="554.7" rx="2.0" ry="0.8" fill="#000" opacity="0.07"/>
</g>
<path d="M205.9 425.9 L212.0 422.9 L212.0 428.9 Z" fill="#111"/>
<text transform="translate(216.8,428.8) scale(0.95,1)" font-size="9" class="ff-s" font-weight="bold" fill="#111" stroke="#111" stroke-width="0.25">pBeclin1(Ser15)</text>
<path d="M205.9 446.3 L212.0 443.3 L212.0 449.3 Z" fill="#111"/>
<text transform="translate(216.8,449.2) scale(0.95,1)" font-size="9" class="ff-s" font-weight="bold" fill="#111" stroke="#111" stroke-width="0.25">Beclin1</text>
<path d="M205.9 468.4 L212.0 465.4 L212.0 471.4 Z" fill="#111"/>
<text transform="translate(216.8,471.3) scale(0.95,1)" font-size="9" class="ff-s" font-weight="bold" fill="#111" stroke="#111" stroke-width="0.25">BNIP3L/NIX</text>
<path d="M205.9 490.0 L212.0 487.0 L212.0 493.0 Z" fill="#111"/>
<text transform="translate(216.8,492.9) scale(0.95,1)" font-size="9" class="ff-s" font-weight="bold" fill="#111" stroke="#111" stroke-width="0.25">DAPK1</text>
<path d="M205.9 510.6 L212.0 507.6 L212.0 513.6 Z" fill="#111"/>
<text transform="translate(216.8,513.5) scale(0.95,1)" font-size="9" class="ff-s" font-weight="bold" fill="#111" stroke="#111" stroke-width="0.25">PINK1</text>
<path d="M205.9 529.3 L212.0 526.3 L212.0 532.3 Z" fill="#111"/>
<text transform="translate(216.8,531.8) scale(0.95,1)" font-size="9" class="ff-s" font-weight="bold" fill="#111" stroke="#111" stroke-width="0.25">LC3I</text>
<path d="M205.9 536.9 L212.0 533.9 L212.0 539.9 Z" fill="#111"/>
<text transform="translate(216.8,541.5) scale(0.95,1)" font-size="9" class="ff-s" font-weight="bold" fill="#111" stroke="#111" stroke-width="0.25">LC3II</text>
<path d="M205.9 554.4 L212.0 551.4 L212.0 557.4 Z" fill="#111"/>
<text transform="translate(216.8,556.8) scale(0.95,1)" font-size="9" class="ff-s" font-weight="bold" fill="#111" stroke="#111" stroke-width="0.25">p62</text>
<path d="M205.9 576.3 L212.0 573.3 L212.0 579.3 Z" fill="#111"/>
<text transform="translate(216.8,579.2) scale(0.95,1)" font-size="9" class="ff-s" font-weight="bold" fill="#111" stroke="#111" stroke-width="0.25">Actin</text>
<line x1="306.7" y1="396.2" x2="306.7" y2="460.3" stroke="#858585" stroke-width="1"/>
<line x1="305.2" y1="397.2" x2="306.7" y2="397.2" stroke="#858585" stroke-width="0.8"/>
<text transform="translate(305.8,399.8) scale(0.9,1)" font-size="7.4" text-anchor="end" class="ff-a" font-weight="bold" fill="#111" stroke="#111" stroke-width="0.2">2.0</text>
<line x1="305.2" y1="413.0" x2="306.7" y2="413.0" stroke="#858585" stroke-width="0.8"/>
<text transform="translate(305.8,415.6) scale(0.9,1)" font-size="7.4" text-anchor="end" class="ff-a" font-weight="bold" fill="#111" stroke="#111" stroke-width="0.2">1.5</text>
<line x1="305.2" y1="428.8" x2="306.7" y2="428.8" stroke="#858585" stroke-width="0.8"/>
<text transform="translate(305.8,431.4) scale(0.9,1)" font-size="7.4" text-anchor="end" class="ff-a" font-weight="bold" fill="#111" stroke="#111" stroke-width="0.2">1.0</text>
<line x1="305.2" y1="444.5" x2="306.7" y2="444.5" stroke="#858585" stroke-width="0.8"/>
<text transform="translate(305.8,447.1) scale(0.9,1)" font-size="7.4" text-anchor="end" class="ff-a" font-weight="bold" fill="#111" stroke="#111" stroke-width="0.2">0.5</text>
<line x1="305.2" y1="460.3" x2="306.7" y2="460.3" stroke="#858585" stroke-width="0.8"/>
<text transform="translate(305.8,462.9) scale(0.9,1)" font-size="7.4" text-anchor="end" class="ff-a" font-weight="bold" fill="#111" stroke="#111" stroke-width="0.2">0.0</text>
<line x1="328.6" y1="453.0" x2="328.6" y2="454.0" stroke="#555" stroke-width="0.9"/>
<line x1="321.1" y1="453.0" x2="336.1" y2="453.0" stroke="#555" stroke-width="0.9"/>
<rect x="317.8" y="454.4" width="21.6" height="6.3" fill="#fff" stroke="#888" stroke-width="0.8" />
<line x1="362.5" y1="401.8" x2="362.5" y2="407.9" stroke="#555" stroke-width="0.9"/>
<line x1="357.0" y1="401.8" x2="368.0" y2="401.8" stroke="#555" stroke-width="0.9"/>
<rect x="351.3" y="407.9" width="22.4" height="52.4" fill="#2e2e2e" stroke="none" stroke-width="1" />
<line x1="306.7" y1="460.3" x2="384.9" y2="460.3" stroke="#858585" stroke-width="1"/>
<path d="M328.4 397.7 L328.4 392.1 L362.7 392.1 L362.7 397.5" fill="none" stroke="#777" stroke-width="0.8"/>
<text x="345.2" y="389.7" font-size="9" text-anchor="middle" class="ff-a" font-weight="bold" fill="#1a1a1a" stroke="#1a1a1a" stroke-width="0.2" >***</text>
<text x="330.9" y="471.5" font-size="7.8" text-anchor="middle" class="ff-s" font-weight="bold" fill="#111" stroke="#111" stroke-width="0.25" >Non-DCI</text>
<text x="364.8" y="472.3" font-size="7.8" text-anchor="middle" class="ff-s" font-weight="bold" fill="#111" stroke="#111" stroke-width="0.25" >DCI</text>
<text transform="translate(292.4,425.5) rotate(-90) scale(0.96,1)" font-size="8.1" text-anchor="middle" class="ff-s" font-weight="bold" fill="#111" stroke="#111" stroke-width="0.25">pBECN1/Actin</text>
<line x1="413.1" y1="393.1" x2="413.1" y2="457.3" stroke="#858585" stroke-width="1"/>
<line x1="411.6" y1="394.1" x2="413.1" y2="394.1" stroke="#858585" stroke-width="0.8"/>
<text transform="translate(412.2,396.7) scale(0.9,1)" font-size="7.4" text-anchor="end" class="ff-a" font-weight="bold" fill="#111" stroke="#111" stroke-width="0.2">1.5</text>
<line x1="411.6" y1="415.2" x2="413.1" y2="415.2" stroke="#858585" stroke-width="0.8"/>
<text transform="translate(412.2,417.8) scale(0.9,1)" font-size="7.4" text-anchor="end" class="ff-a" font-weight="bold" fill="#111" stroke="#111" stroke-width="0.2">1.0</text>
<line x1="411.6" y1="436.2" x2="413.1" y2="436.2" stroke="#858585" stroke-width="0.8"/>
<text transform="translate(412.2,438.8) scale(0.9,1)" font-size="7.4" text-anchor="end" class="ff-a" font-weight="bold" fill="#111" stroke="#111" stroke-width="0.2">0.5</text>
<line x1="411.6" y1="457.3" x2="413.1" y2="457.3" stroke="#858585" stroke-width="0.8"/>
<text transform="translate(412.2,459.9) scale(0.9,1)" font-size="7.4" text-anchor="end" class="ff-a" font-weight="bold" fill="#111" stroke="#111" stroke-width="0.2">0.0</text>
<line x1="434.9" y1="451.2" x2="434.9" y2="452.0" stroke="#555" stroke-width="0.9"/>
<line x1="427.4" y1="451.2" x2="442.4" y2="451.2" stroke="#555" stroke-width="0.9"/>
<rect x="424.2" y="452.4" width="21.4" height="5.3" fill="#fff" stroke="#888" stroke-width="0.8" />
<line x1="468.1" y1="424.2" x2="468.1" y2="430.3" stroke="#555" stroke-width="0.9"/>
<line x1="462.6" y1="424.2" x2="473.6" y2="424.2" stroke="#555" stroke-width="0.9"/>
<rect x="457.1" y="430.3" width="21.9" height="27.0" fill="#2e2e2e" stroke="none" stroke-width="1" />
<line x1="413.1" y1="457.3" x2="492.2" y2="457.3" stroke="#858585" stroke-width="1"/>
<path d="M434.8 420.1 L434.8 414.2 L468.0 414.2 L468.0 419.3" fill="none" stroke="#777" stroke-width="0.8"/>
<text x="451.0" y="411.9" font-size="9" text-anchor="middle" class="ff-a" font-weight="bold" fill="#1a1a1a" stroke="#1a1a1a" stroke-width="0.2" >***</text>
<text x="436.6" y="469.7" font-size="7.8" text-anchor="middle" class="ff-s" font-weight="bold" fill="#111" stroke="#111" stroke-width="0.25" >Non-DCI</text>
<text x="469.8" y="469.7" font-size="7.8" text-anchor="middle" class="ff-s" font-weight="bold" fill="#111" stroke="#111" stroke-width="0.25" >DCI</text>
<text transform="translate(399.9,424.7) rotate(-90) scale(0.96,1)" font-size="8.1" text-anchor="middle" class="ff-s" font-weight="bold" fill="#111" stroke="#111" stroke-width="0.25">BECN1/Actin</text>
<line x1="522.0" y1="389.8" x2="522.0" y2="456.8" stroke="#858585" stroke-width="1"/>
<line x1="520.5" y1="390.8" x2="522.0" y2="390.8" stroke="#858585" stroke-width="0.8"/>
<text transform="translate(521.1,393.4) scale(0.9,1)" font-size="7.4" text-anchor="end" class="ff-a" font-weight="bold" fill="#111" stroke="#111" stroke-width="0.2">1.5</text>
<line x1="520.5" y1="412.8" x2="522.0" y2="412.8" stroke="#858585" stroke-width="0.8"/>
<text transform="translate(521.1,415.4) scale(0.9,1)" font-size="7.4" text-anchor="end" class="ff-a" font-weight="bold" fill="#111" stroke="#111" stroke-width="0.2">1.0</text>
<line x1="520.5" y1="434.8" x2="522.0" y2="434.8" stroke="#858585" stroke-width="0.8"/>
<text transform="translate(521.1,437.4) scale(0.9,1)" font-size="7.4" text-anchor="end" class="ff-a" font-weight="bold" fill="#111" stroke="#111" stroke-width="0.2">0.5</text>
<line x1="520.5" y1="456.8" x2="522.0" y2="456.8" stroke="#858585" stroke-width="0.8"/>
<text transform="translate(521.1,459.4) scale(0.9,1)" font-size="7.4" text-anchor="end" class="ff-a" font-weight="bold" fill="#111" stroke="#111" stroke-width="0.2">0.0</text>
<line x1="544.1" y1="453.2" x2="544.1" y2="455.2" stroke="#aaa" stroke-width="0.9"/>
<line x1="538.6" y1="453.2" x2="549.6" y2="453.2" stroke="#aaa" stroke-width="0.9"/>
<rect x="533.3" y="455.6" width="21.6" height="1.6" fill="#fff" stroke="#b5b5b5" stroke-width="0.8" />
<line x1="578.3" y1="427.0" x2="578.3" y2="430.8" stroke="#555" stroke-width="0.9"/>
<line x1="572.8" y1="427.0" x2="583.8" y2="427.0" stroke="#555" stroke-width="0.9"/>
<rect x="567.3" y="430.8" width="22.1" height="26.0" fill="#2e2e2e" stroke="none" stroke-width="1" />
<line x1="522.0" y1="456.8" x2="600.9" y2="456.8" stroke="#858585" stroke-width="1"/>
<path d="M544.4 423.4 L544.4 418.1 L578.7 418.1 L578.7 423.4" fill="none" stroke="#777" stroke-width="0.8"/>
<text x="560.9" y="415.7" font-size="9" text-anchor="middle" class="ff-a" font-weight="bold" fill="#1a1a1a" stroke="#1a1a1a" stroke-width="0.2" >***</text>
<text x="545.7" y="467.2" font-size="7.8" text-anchor="middle" class="ff-s" font-weight="bold" fill="#111" stroke="#111" stroke-width="0.25" >Non-DCI</text>
<text x="579.3" y="467.2" font-size="7.8" text-anchor="middle" class="ff-s" font-weight="bold" fill="#111" stroke="#111" stroke-width="0.25" >DCI</text>
<text transform="translate(507.7,424.8) rotate(-90) scale(0.96,1)" font-size="8.1" text-anchor="middle" class="ff-s" font-weight="bold" fill="#111" stroke="#111" stroke-width="0.25">BNIP3L/Actin</text>
<line x1="310.5" y1="501.5" x2="310.5" y2="571.2" stroke="#858585" stroke-width="1"/>
<line x1="309.0" y1="502.5" x2="310.5" y2="502.5" stroke="#858585" stroke-width="0.8"/>
<text transform="translate(309.6,505.1) scale(0.9,1)" font-size="7.4" text-anchor="end" class="ff-a" font-weight="bold" fill="#111" stroke="#111" stroke-width="0.2">1.5</text>
<line x1="309.0" y1="525.4" x2="310.5" y2="525.4" stroke="#858585" stroke-width="0.8"/>
<text transform="translate(309.6,528.0) scale(0.9,1)" font-size="7.4" text-anchor="end" class="ff-a" font-weight="bold" fill="#111" stroke="#111" stroke-width="0.2">1.0</text>
<line x1="309.0" y1="548.3" x2="310.5" y2="548.3" stroke="#858585" stroke-width="0.8"/>
<text transform="translate(309.6,550.9) scale(0.9,1)" font-size="7.4" text-anchor="end" class="ff-a" font-weight="bold" fill="#111" stroke="#111" stroke-width="0.2">0.5</text>
<line x1="309.0" y1="571.2" x2="310.5" y2="571.2" stroke="#858585" stroke-width="0.8"/>
<text transform="translate(309.6,573.8) scale(0.9,1)" font-size="7.4" text-anchor="end" class="ff-a" font-weight="bold" fill="#111" stroke="#111" stroke-width="0.2">0.0</text>
<line x1="332.8" y1="561.5" x2="332.8" y2="563.3" stroke="#555" stroke-width="0.9"/>
<line x1="327.2" y1="561.5" x2="338.2" y2="561.5" stroke="#555" stroke-width="0.9"/>
<rect x="321.8" y="563.7" width="21.9" height="7.9" fill="#fff" stroke="#888" stroke-width="0.8" />
<line x1="366.9" y1="521.6" x2="366.9" y2="529.7" stroke="#555" stroke-width="0.9"/>
<line x1="361.4" y1="521.6" x2="372.4" y2="521.6" stroke="#555" stroke-width="0.9"/>
<rect x="355.8" y="529.7" width="22.1" height="41.5" fill="#2e2e2e" stroke="none" stroke-width="1" />
<line x1="310.5" y1="571.2" x2="388.8" y2="571.2" stroke="#858585" stroke-width="1"/>
<path d="M332.1 517.0 L332.1 510.7 L367.2 510.7 L367.2 517.0" fill="none" stroke="#777" stroke-width="0.8"/>
<text x="349.2" y="508.3" font-size="9" text-anchor="middle" class="ff-a" font-weight="bold" fill="#1a1a1a" stroke="#1a1a1a" stroke-width="0.2" >***</text>
<text x="332.9" y="581.4" font-size="7.8" text-anchor="middle" class="ff-s" font-weight="bold" fill="#111" stroke="#111" stroke-width="0.25" >Non-DCI</text>
<text x="366.4" y="581.4" font-size="7.8" text-anchor="middle" class="ff-s" font-weight="bold" fill="#111" stroke="#111" stroke-width="0.25" >DCI</text>
<text transform="translate(298.6,537.4) rotate(-90) scale(0.96,1)" font-size="8.1" text-anchor="middle" class="ff-s" font-weight="bold" fill="#111" stroke="#111" stroke-width="0.25">DAPK1/Actin</text>
<line x1="416.8" y1="499.5" x2="416.8" y2="568.4" stroke="#858585" stroke-width="1"/>
<line x1="415.3" y1="500.5" x2="416.8" y2="500.5" stroke="#858585" stroke-width="0.8"/>
<text transform="translate(415.9,503.1) scale(0.9,1)" font-size="7.4" text-anchor="end" class="ff-a" font-weight="bold" fill="#111" stroke="#111" stroke-width="0.2">2.0</text>
<line x1="415.3" y1="517.5" x2="416.8" y2="517.5" stroke="#858585" stroke-width="0.8"/>
<text transform="translate(415.9,520.1) scale(0.9,1)" font-size="7.4" text-anchor="end" class="ff-a" font-weight="bold" fill="#111" stroke="#111" stroke-width="0.2">1.5</text>
<line x1="415.3" y1="534.5" x2="416.8" y2="534.5" stroke="#858585" stroke-width="0.8"/>
<text transform="translate(415.9,537.1) scale(0.9,1)" font-size="7.4" text-anchor="end" class="ff-a" font-weight="bold" fill="#111" stroke="#111" stroke-width="0.2">1.0</text>
<line x1="415.3" y1="551.4" x2="416.8" y2="551.4" stroke="#858585" stroke-width="0.8"/>
<text transform="translate(415.9,554.0) scale(0.9,1)" font-size="7.4" text-anchor="end" class="ff-a" font-weight="bold" fill="#111" stroke="#111" stroke-width="0.2">0.5</text>
<line x1="415.3" y1="568.4" x2="416.8" y2="568.4" stroke="#858585" stroke-width="0.8"/>
<text transform="translate(415.9,571.0) scale(0.9,1)" font-size="7.4" text-anchor="end" class="ff-a" font-weight="bold" fill="#111" stroke="#111" stroke-width="0.2">0.0</text>
<line x1="438.6" y1="549.6" x2="438.6" y2="551.6" stroke="#555" stroke-width="0.9"/>
<line x1="433.1" y1="549.6" x2="444.1" y2="549.6" stroke="#555" stroke-width="0.9"/>
<rect x="427.9" y="552.0" width="21.5" height="16.8" fill="#fff" stroke="#888" stroke-width="0.8" />
<line x1="473.3" y1="519.8" x2="473.3" y2="525.4" stroke="#555" stroke-width="0.9"/>
<line x1="467.8" y1="519.8" x2="478.8" y2="519.8" stroke="#555" stroke-width="0.9"/>
<rect x="462.1" y="525.4" width="22.4" height="43.0" fill="#2e2e2e" stroke="none" stroke-width="1" />
<line x1="416.8" y1="568.4" x2="494.7" y2="568.4" stroke="#858585" stroke-width="1"/>
<path d="M438.9 515.8 L438.9 509.4 L473.1 509.4 L473.1 514.5" fill="none" stroke="#777" stroke-width="0.8"/>
<text x="455.8" y="507.0" font-size="9" text-anchor="middle" class="ff-a" font-weight="bold" fill="#1a1a1a" stroke="#1a1a1a" stroke-width="0.2" >***</text>
<text x="438.9" y="578.6" font-size="7.8" text-anchor="middle" class="ff-s" font-weight="bold" fill="#111" stroke="#111" stroke-width="0.25" >Non-DCI</text>
<text x="473.1" y="578.6" font-size="7.8" text-anchor="middle" class="ff-s" font-weight="bold" fill="#111" stroke="#111" stroke-width="0.25" >DCI</text>
<text transform="translate(404.1,533.6) rotate(-90) scale(0.96,1)" font-size="8.1" text-anchor="middle" class="ff-s" font-weight="bold" fill="#111" stroke="#111" stroke-width="0.25">PINK1/Actin</text>
<line x1="520.9" y1="505.4" x2="520.9" y2="571.2" stroke="#858585" stroke-width="1"/>
<line x1="519.4" y1="506.4" x2="520.9" y2="506.4" stroke="#858585" stroke-width="0.8"/>
<text transform="translate(520.0,509.0) scale(0.9,1)" font-size="7.4" text-anchor="end" class="ff-a" font-weight="bold" fill="#111" stroke="#111" stroke-width="0.2">2.0</text>
<line x1="519.4" y1="522.6" x2="520.9" y2="522.6" stroke="#858585" stroke-width="0.8"/>
<text transform="translate(520.0,525.2) scale(0.9,1)" font-size="7.4" text-anchor="end" class="ff-a" font-weight="bold" fill="#111" stroke="#111" stroke-width="0.2">1.5</text>
<line x1="519.4" y1="538.8" x2="520.9" y2="538.8" stroke="#858585" stroke-width="0.8"/>
<text transform="translate(520.0,541.4) scale(0.9,1)" font-size="7.4" text-anchor="end" class="ff-a" font-weight="bold" fill="#111" stroke="#111" stroke-width="0.2">1.0</text>
<line x1="519.4" y1="555.0" x2="520.9" y2="555.0" stroke="#858585" stroke-width="0.8"/>
<text transform="translate(520.0,557.6) scale(0.9,1)" font-size="7.4" text-anchor="end" class="ff-a" font-weight="bold" fill="#111" stroke="#111" stroke-width="0.2">0.5</text>
<line x1="519.4" y1="571.2" x2="520.9" y2="571.2" stroke="#858585" stroke-width="0.8"/>
<text transform="translate(520.0,573.8) scale(0.9,1)" font-size="7.4" text-anchor="end" class="ff-a" font-weight="bold" fill="#111" stroke="#111" stroke-width="0.2">0.0</text>
<line x1="545.1" y1="556.4" x2="545.1" y2="564.1" stroke="#555" stroke-width="0.9"/>
<line x1="539.6" y1="556.4" x2="550.6" y2="556.4" stroke="#555" stroke-width="0.9"/>
<rect x="533.7" y="564.5" width="22.9" height="7.1" fill="#fff" stroke="#999" stroke-width="0.8" />
<line x1="581.2" y1="512.0" x2="581.2" y2="535.6" stroke="#555" stroke-width="0.9"/>
<line x1="575.7" y1="512.0" x2="586.7" y2="512.0" stroke="#555" stroke-width="0.9"/>
<rect x="569.2" y="535.6" width="23.9" height="35.6" fill="#2e2e2e" stroke="none" stroke-width="1" />
<line x1="520.9" y1="571.2" x2="604.0" y2="571.2" stroke="#858585" stroke-width="1"/>
<path d="M545.0 508.6 L545.0 503.0 L581.1 503.0 L581.1 508.6" fill="none" stroke="#777" stroke-width="0.8"/>
<text x="563.1" y="500.7" font-size="9" text-anchor="middle" class="ff-a" font-weight="bold" fill="#1a1a1a" stroke="#1a1a1a" stroke-width="0.2" >*</text>
<text x="546.0" y="581.9" font-size="7.8" text-anchor="middle" class="ff-s" font-weight="bold" fill="#111" stroke="#111" stroke-width="0.25" >Non-DCI</text>
<text x="579.3" y="581.9" font-size="7.8" text-anchor="middle" class="ff-s" font-weight="bold" fill="#111" stroke="#111" stroke-width="0.25" >DCI</text>
<text transform="translate(505.7,534.9) rotate(-90) scale(0.96,1)" font-size="8.1" text-anchor="middle" class="ff-s" font-weight="bold" fill="#111" stroke="#111" stroke-width="0.25">LC3II/Actin</text>
<line x1="627.8" y1="500.5" x2="627.8" y2="570.0" stroke="#858585" stroke-width="1"/>
<line x1="626.3" y1="501.5" x2="627.8" y2="501.5" stroke="#858585" stroke-width="0.8"/>
<text transform="translate(626.9,504.1) scale(0.9,1)" font-size="7.4" text-anchor="end" class="ff-a" font-weight="bold" fill="#111" stroke="#111" stroke-width="0.2">0.8</text>
<line x1="626.3" y1="518.6" x2="627.8" y2="518.6" stroke="#858585" stroke-width="0.8"/>
<text transform="translate(626.9,521.2) scale(0.9,1)" font-size="7.4" text-anchor="end" class="ff-a" font-weight="bold" fill="#111" stroke="#111" stroke-width="0.2">0.6</text>
<line x1="626.3" y1="535.8" x2="627.8" y2="535.8" stroke="#858585" stroke-width="0.8"/>
<text transform="translate(626.9,538.4) scale(0.9,1)" font-size="7.4" text-anchor="end" class="ff-a" font-weight="bold" fill="#111" stroke="#111" stroke-width="0.2">0.4</text>
<line x1="626.3" y1="552.9" x2="627.8" y2="552.9" stroke="#858585" stroke-width="0.8"/>
<text transform="translate(626.9,555.5) scale(0.9,1)" font-size="7.4" text-anchor="end" class="ff-a" font-weight="bold" fill="#111" stroke="#111" stroke-width="0.2">0.2</text>
<line x1="626.3" y1="570.0" x2="627.8" y2="570.0" stroke="#858585" stroke-width="0.8"/>
<text transform="translate(626.9,572.6) scale(0.9,1)" font-size="7.4" text-anchor="end" class="ff-a" font-weight="bold" fill="#111" stroke="#111" stroke-width="0.2">0.0</text>
<line x1="650.6" y1="541.9" x2="650.6" y2="545.4" stroke="#555" stroke-width="0.9"/>
<line x1="645.1" y1="541.9" x2="656.1" y2="541.9" stroke="#555" stroke-width="0.9"/>
<rect x="639.9" y="545.8" width="21.4" height="24.6" fill="#fff" stroke="#666" stroke-width="0.8" />
<line x1="684.6" y1="563.3" x2="684.6" y2="563.9" stroke="#555" stroke-width="0.9"/>
<line x1="679.1" y1="563.3" x2="690.1" y2="563.3" stroke="#555" stroke-width="0.9"/>
<rect x="673.1" y="563.9" width="23.0" height="6.1" fill="#2e2e2e" stroke="none" stroke-width="1" />
<line x1="627.8" y1="570.0" x2="705.8" y2="570.0" stroke="#858585" stroke-width="1"/>
<path d="M650.2 537.7 L650.2 532.0 L685.4 532.0 L685.4 537.7" fill="none" stroke="#777" stroke-width="0.8"/>
<text x="667.2" y="529.0" font-size="9" text-anchor="middle" class="ff-a" font-weight="bold" fill="#1a1a1a" stroke="#1a1a1a" stroke-width="0.2" >***</text>
<text x="651.6" y="579.1" font-size="7.8" text-anchor="middle" class="ff-s" font-weight="bold" fill="#111" stroke="#111" stroke-width="0.25" >Non-DCI</text>
<text x="684.6" y="579.1" font-size="7.8" text-anchor="middle" class="ff-s" font-weight="bold" fill="#111" stroke="#111" stroke-width="0.25" >DCI</text>
<text transform="translate(614.6,533.5) rotate(-90) scale(0.96,1)" font-size="8.1" text-anchor="middle" class="ff-s" font-weight="bold" fill="#111" stroke="#111" stroke-width="0.25">p62/Actin</text>
</g>
</svg>
</body></html>
